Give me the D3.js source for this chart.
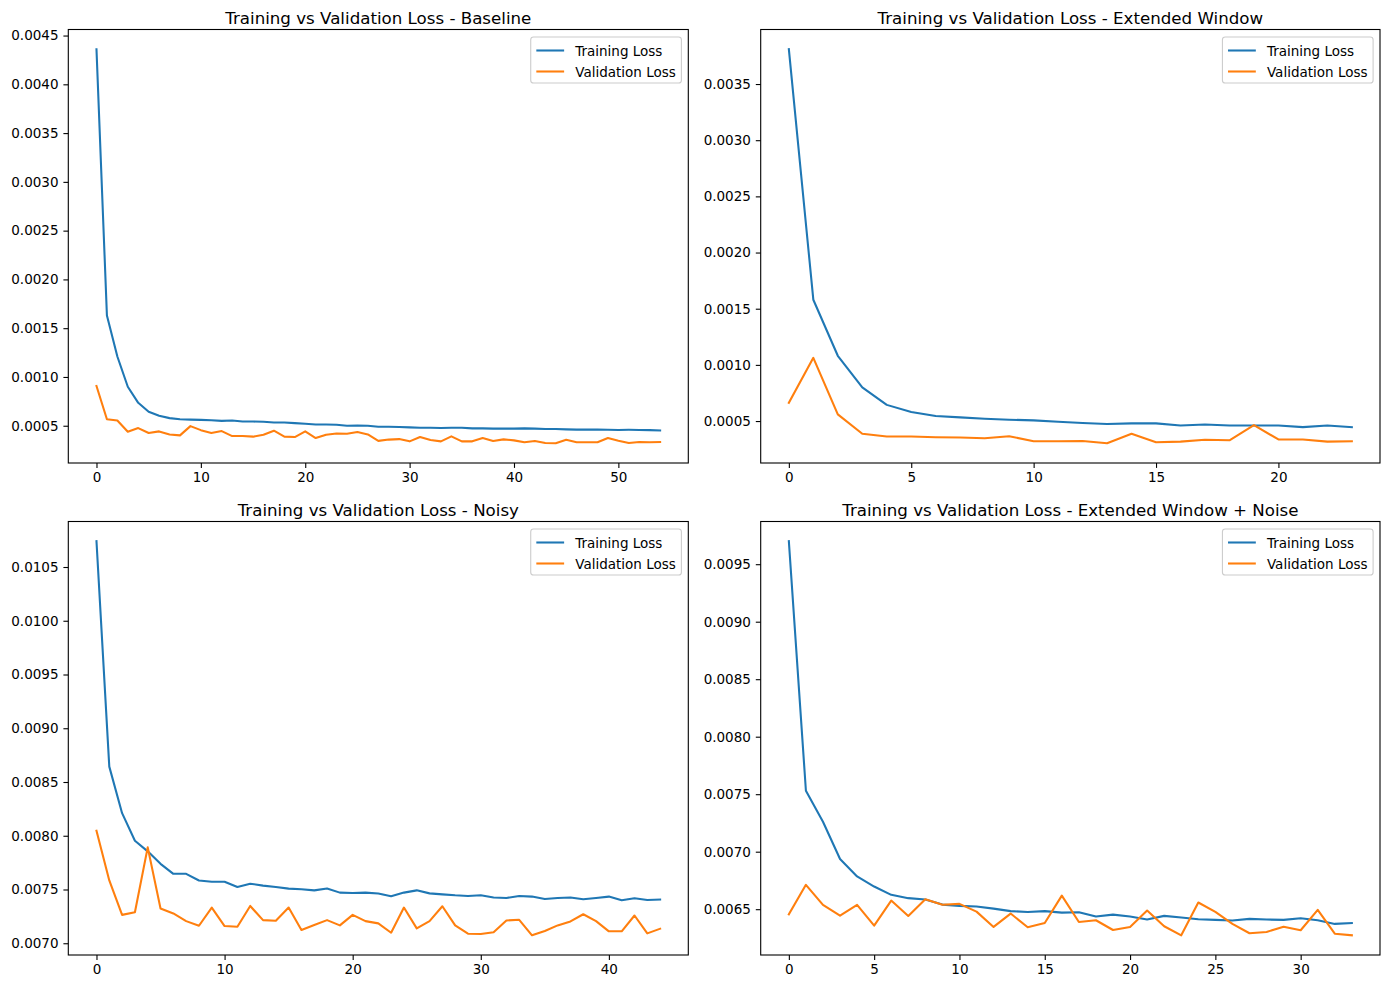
<!DOCTYPE html>
<html lang="en">
<head>
<meta charset="UTF-8">
<title>Training vs Validation Loss</title>
<script src="https://d3js.org/d3.v7.min.js"></script>
<style>
    body { margin: 0; background: #fff; }
    svg { display: block; font-family: "DejaVu Sans", sans-serif; }
    .domain { display: none; }
</style>
</head>
<body>
<svg id="chart" width="1389" height="989"></svg>
<script>
// loss values
const baselineTrain = [0.00436, 0.00163, 0.00121, 0.00090, 0.000735, 0.000643, 0.000602, 0.000578, 0.000567, 0.000563,
    0.00056, 0.000557, 0.00055, 0.000553, 0.000543, 0.000543, 0.00054, 0.000533, 0.000533, 0.000527,
    0.00052, 0.000513, 0.000513, 0.00051, 0.0005, 0.000503, 0.0005, 0.00049, 0.00049, 0.000487,
    0.000483, 0.00048, 0.00048, 0.000477, 0.00048, 0.00048, 0.000473, 0.000473, 0.00047, 0.00047,
    0.00047, 0.000473, 0.00047, 0.000467, 0.000467, 0.000463, 0.00046, 0.00046, 0.00046, 0.000458,
    0.000457, 0.000458, 0.000457, 0.000455, 0.000452];
const baselineVal = [0.000908, 0.000567, 0.000554, 0.000439, 0.000476, 0.000425, 0.000442, 0.000411, 0.000401, 0.000496,
    0.000455, 0.000425, 0.000445, 0.000394, 0.000394, 0.000388, 0.000408, 0.000449, 0.000388, 0.000384,
    0.000442, 0.000374, 0.000408, 0.000421, 0.000418, 0.000435, 0.000411, 0.000345, 0.000358, 0.000363,
    0.00034, 0.000384, 0.000353, 0.00034, 0.000391, 0.00034, 0.00034, 0.000374, 0.000343, 0.00036,
    0.00035, 0.00033, 0.000343, 0.000323, 0.00032, 0.000357, 0.00033, 0.00033, 0.00033, 0.000374,
    0.000347, 0.000323, 0.000333, 0.00033, 0.000333];

const extTrain = [0.00381, 0.00158, 0.001081, 0.0008, 0.000644, 0.000581, 0.000545, 0.000533, 0.000521, 0.000512,
    0.000506, 0.000494, 0.000482, 0.000473, 0.000479, 0.000479, 0.000461, 0.00047, 0.000461, 0.000461,
    0.000461, 0.000446, 0.000461, 0.000446];
const extVal = [0.000662, 0.001063, 0.00056, 0.000387, 0.000363, 0.000363, 0.000356, 0.000353, 0.000347, 0.000365,
    0.00032, 0.00032, 0.000323, 0.000302, 0.000387, 0.000311, 0.000317, 0.000333, 0.000329, 0.000464,
    0.000336, 0.000336, 0.000317, 0.00032];

const noisyTrain = [0.01074, 0.008643, 0.00821, 0.007954, 0.007855, 0.007739, 0.007646, 0.007646, 0.007584, 0.007572,
    0.007572, 0.007523, 0.007554, 0.007536, 0.007523, 0.007508, 0.007502, 0.007492, 0.00751, 0.007471,
    0.007468, 0.007471, 0.007462, 0.007437, 0.007471, 0.007492, 0.007464, 0.007455, 0.007446, 0.00744,
    0.007446, 0.007425, 0.007421, 0.00744, 0.007434, 0.007412, 0.007421, 0.007425, 0.007409, 0.007421,
    0.007434, 0.0074, 0.007418, 0.007403, 0.007406];
const noisyVal = [0.008046, 0.007584, 0.007264, 0.007289, 0.007892, 0.007323, 0.007277, 0.007206, 0.007163, 0.007332,
    0.00716, 0.007153, 0.007347, 0.007215, 0.007209, 0.007332, 0.007123, 0.007169, 0.007215, 0.007166,
    0.007264, 0.007206, 0.007185, 0.007098, 0.007332, 0.007138, 0.007206, 0.007344, 0.007166, 0.007089,
    0.007086, 0.007102, 0.007212, 0.007218, 0.007074, 0.007114, 0.007166, 0.007203, 0.00727, 0.007206,
    0.007111, 0.007111, 0.007258, 0.007092, 0.007135];

const extNoiseTrain = [0.0097, 0.00753, 0.00726, 0.006936, 0.006785, 0.006697, 0.006625, 0.006596, 0.006584, 0.00654,
    0.006529, 0.006523, 0.006505, 0.006483, 0.006476, 0.006483, 0.00647, 0.006473, 0.006436, 0.006453,
    0.006436, 0.00641, 0.006442, 0.006427, 0.006413, 0.006407, 0.006401, 0.006416, 0.00641, 0.006407,
    0.006421, 0.006404, 0.006372, 0.00638];
const extNoiseVal = [0.006456, 0.006712, 0.006538, 0.006444, 0.006538, 0.006357, 0.006575, 0.006441, 0.006587, 0.006538,
    0.006546, 0.006479, 0.006346, 0.006462, 0.006343, 0.00638, 0.006618, 0.006389, 0.006404, 0.006319,
    0.006346, 0.006488, 0.006352, 0.006273, 0.006558, 0.006476, 0.006372, 0.006291, 0.006302, 0.006348,
    0.006317, 0.006494, 0.006287, 0.006273];

const titles = [
    "Training vs Validation Loss - Baseline",
    "Training vs Validation Loss - Extended Window",
    "Training vs Validation Loss - Noisy",
    "Training vs Validation Loss - Extended Window + Noise"
];
const seriesNames = ["Training Loss", "Validation Loss"];

// tick values per panel
const xTicksBaseline = [0, 10, 20, 30, 40, 50];
const yTicksBaseline = [0.0005, 0.0010, 0.0015, 0.0020, 0.0025, 0.0030, 0.0035, 0.0040, 0.0045];
const xTicksExt = [0, 5, 10, 15, 20];
const yTicksExt = [0.0005, 0.0010, 0.0015, 0.0020, 0.0025, 0.0030, 0.0035];
const xTicksNoisy = [0, 10, 20, 30, 40];
const yTicksNoisy = [0.0070, 0.0075, 0.0080, 0.0085, 0.0090, 0.0095, 0.0100, 0.0105];
const xTicksExtNoise = [0, 5, 10, 15, 20, 25, 30];
const yTicksExtNoise = [0.0065, 0.0070, 0.0075, 0.0080, 0.0085, 0.0090, 0.0095];

const colors = ["#1f77b4", "#ff7f0e"];

const panels = [
    { title: titles[0], train: baselineTrain, val: baselineVal, xt: xTicksBaseline, yt: yTicksBaseline, col: 0, row: 0 },
    { title: titles[1], train: extTrain, val: extVal, xt: xTicksExt, yt: yTicksExt, col: 1, row: 0 },
    { title: titles[2], train: noisyTrain, val: noisyVal, xt: xTicksNoisy, yt: yTicksNoisy, col: 0, row: 1 },
    { title: titles[3], train: extNoiseTrain, val: extNoiseVal, xt: xTicksExtNoise, yt: yTicksExtNoise, col: 1, row: 1 }
];

// axes boxes in pixels
const colX = [[68.3, 688.3], [760.7, 1380]];
const rowY = [[29.5, 463], [521.5, 955]];

const fs = 13.5;
const svg = d3.select("#chart");

panels.forEach(p => {
    const [x0, x1] = colX[p.col];
    const [y0, y1] = rowY[p.row];
    const n = p.train.length;

    // matplotlib style 5% margins
    const xPad = (n - 1) * 0.05;
    const all = p.train.concat(p.val);
    const lo = d3.min(all), hi = d3.max(all);
    const yPad = (hi - lo) * 0.05;

    const x = d3.scaleLinear().domain([-xPad, n - 1 + xPad]).range([x0, x1]);
    const y = d3.scaleLinear().domain([lo - yPad, hi + yPad]).range([y1, y0]);

    const g = svg.append("g");

    // lines
    const line = d3.line().x((d, i) => x(i)).y(d => y(d));
    [p.train, p.val].forEach((s, k) => {
        g.append("path")
            .datum(s)
            .attr("d", line)
            .attr("fill", "none")
            .attr("stroke", colors[k])
            .attr("stroke-width", 2.08)
            .attr("stroke-linejoin", "round")
            .attr("stroke-linecap", "square");
    });

    // axes
    const xAxis = g.append("g")
        .attr("transform", `translate(0,${y1})`)
        .call(d3.axisBottom(x).tickValues(p.xt).tickFormat(d3.format("d")).tickSizeOuter(0).tickSize(4.9).tickPadding(4.9));
    const yAxis = g.append("g")
        .attr("transform", `translate(${x0},0)`)
        .call(d3.axisLeft(y).tickValues(p.yt).tickFormat(d3.format(".4f")).tickSizeOuter(0).tickSize(4.9).tickPadding(4.9));
    [xAxis, yAxis].forEach(a => {
        a.selectAll("text").attr("font-size", fs).attr("fill", "#000").attr("font-family", "DejaVu Sans");
        a.selectAll("line").attr("stroke", "#000").attr("stroke-width", 1.1);
    });

    // frame
    g.append("rect")
        .attr("x", x0).attr("y", y0)
        .attr("width", x1 - x0).attr("height", y1 - y0)
        .attr("fill", "none").attr("stroke", "#000").attr("stroke-width", 1.1);

    // title
    g.append("text")
        .attr("x", (x0 + x1) / 2)
        .attr("y", y0 - 5.5)
        .attr("text-anchor", "middle")
        .attr("font-size", 16.67)
        .text(p.title);

    // legend, upper right
    const leg = g.append("g");
    const labels = seriesNames.map(name => leg.append("text")
        .attr("font-size", fs)
        .text(name));
    const textW = d3.max(labels, t => t.node().getComputedTextLength());
    const pad = 5.6, handle = 27.8, gap = 11.1, rowH = 21;
    const boxW = pad * 2 + handle + gap + textW;
    const boxH = 46;
    const bx = x1 - 6.9 - boxW;
    const by = y0 + 7.5;

    leg.insert("rect", ":first-child")
        .attr("x", bx).attr("y", by)
        .attr("width", boxW).attr("height", boxH)
        .attr("rx", 2.8)
        .attr("fill", "#fff").attr("fill-opacity", 0.8)
        .attr("stroke", "#cccccc").attr("stroke-width", 1.1);

    seriesNames.forEach((name, k) => {
        const cy = by + 13.5 + k * rowH;
        leg.append("line")
            .attr("x1", bx + pad).attr("x2", bx + pad + handle)
            .attr("y1", cy).attr("y2", cy)
            .attr("stroke", colors[k]).attr("stroke-width", 2.08);
        labels[k].attr("x", bx + pad + handle + gap).attr("y", cy + 5);
    });
});
</script>
</body>
</html>
